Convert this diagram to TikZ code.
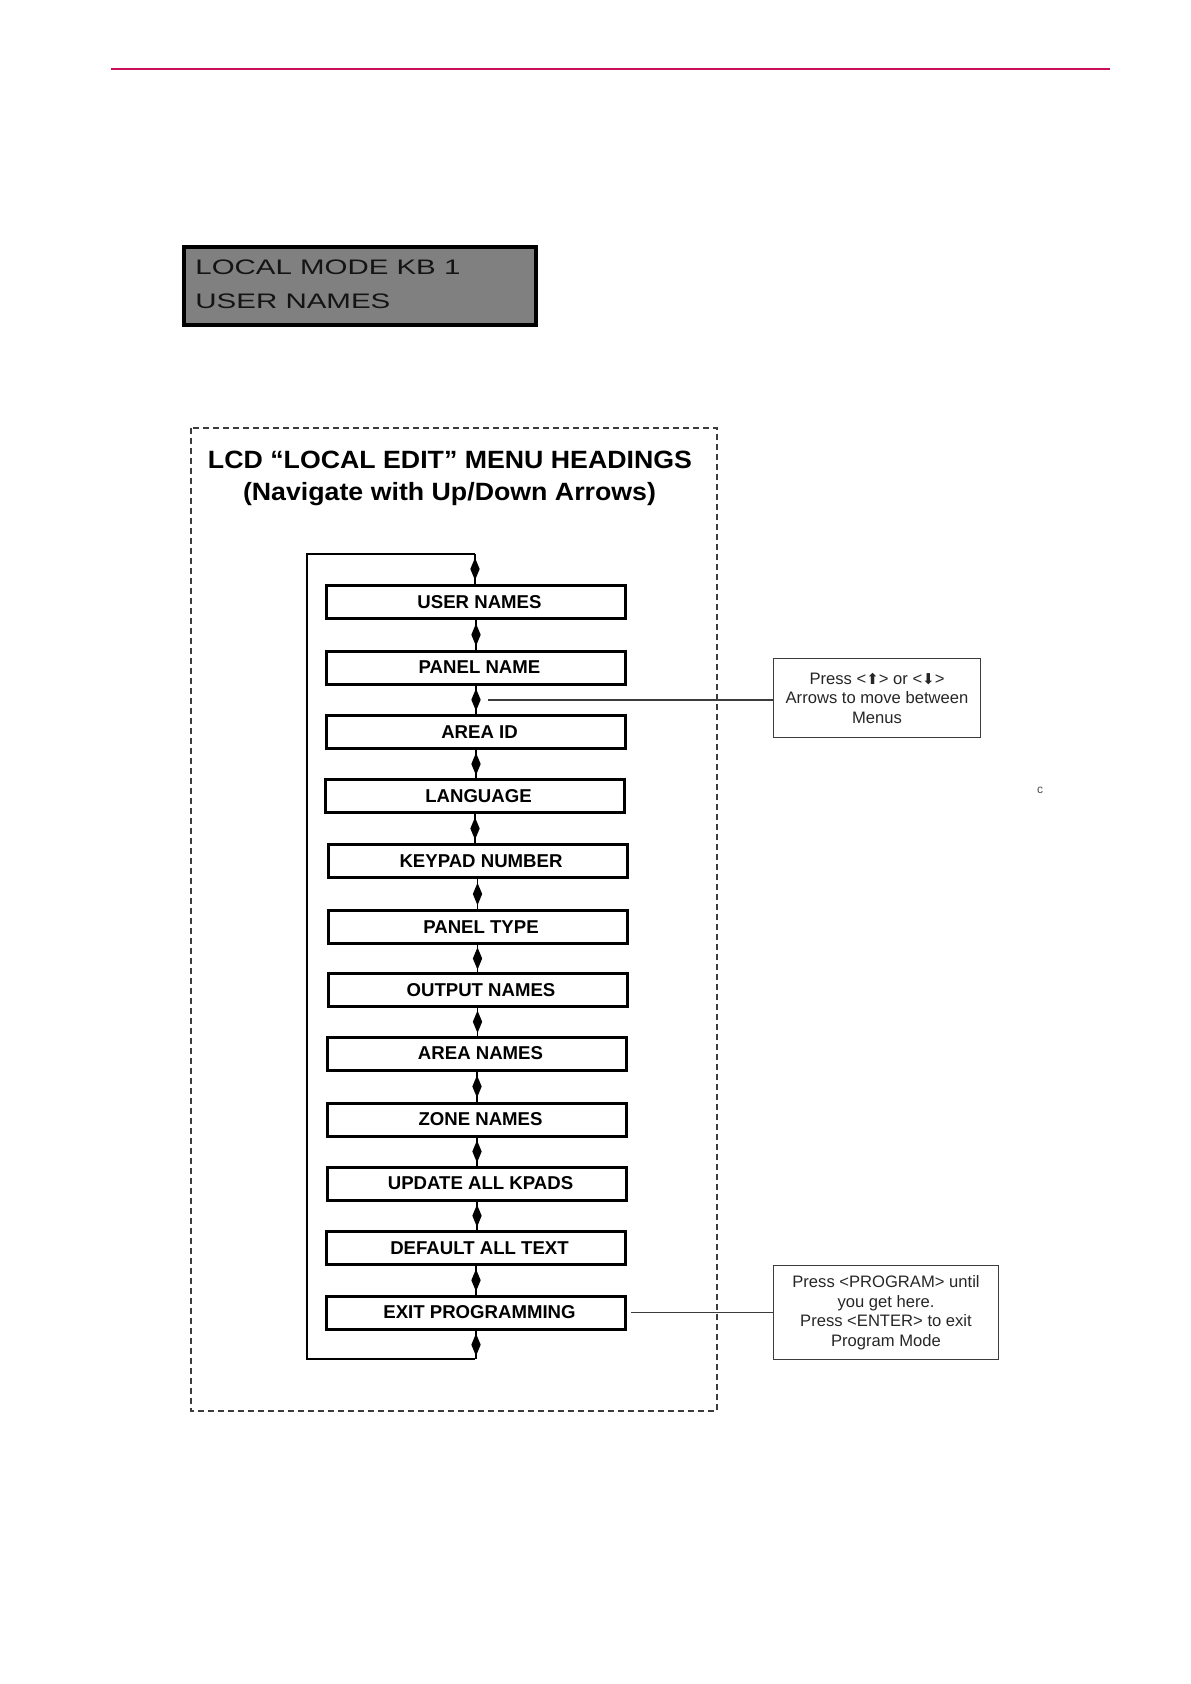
\documentclass[tikz,border=0pt]{standalone}
\usepackage{graphicx}
\usepackage{fontspec}
\setmainfont{Liberation Sans}
\newfontfamily\djv{DejaVu Sans}
\usetikzlibrary{shapes.geometric}
\definecolor{rulered}{RGB}{200,16,90}
\definecolor{lcdgray}{RGB}{128,128,128}
\definecolor{lcdtext}{RGB}{20,20,20}
\definecolor{framegray}{RGB}{60,60,60}
\begin{document}
\begin{tikzpicture}[x=0.5pt,y=-0.5pt,
  menubox/.style={draw=black, line width=1.5pt, fill=white, minimum width=149.5pt, minimum height=16.5pt, inner sep=0pt, font=\fontsize{9.3}{11}\selectfont\bfseries},
  dmd/.style={diamond, fill=black, draw=none, inner sep=0pt, minimum width=5pt, minimum height=11.5pt},
  link/.style={line width=0.8pt},
  loopline/.style={line width=1.4pt, line join=miter},
  callout/.style={draw=framegray, line width=0.6pt, inner sep=0pt, align=center, font=\fontsize{8.3}{9.75}\selectfont, text=black!85},
  leader/.style={line width=0.6pt, draw=framegray},
  dashframe/.style={draw=framegray, line width=0.8pt, dash pattern=on 3pt off 2pt},
  titletext/.style={anchor=base, inner sep=0pt, font=\fontsize{12.5}{14}\selectfont\bfseries},
  lcdline/.style={anchor=base west, inner sep=0pt, text=lcdtext, font=\fontsize{10.5}{12}\selectfont}
]
\useasboundingbox (0,0) rectangle (1190,1684);

% top rule
\draw[draw=rulered, line width=1pt] (111,69) -- (1110,69);

% LCD display
\node[draw=black, line width=2pt, fill=lcdgray, minimum width=176pt, minimum height=39pt, inner sep=0pt] (lcd) at (360,286) {};
\node[lcdline] (lcd1) at (195,275) {\resizebox{132.5pt}{\height}{LOCAL MODE KB 1}};
\node[lcdline] (lcd2) at (195,309) {\resizebox{97.5pt}{\height}{USER NAMES}};

% dashed frame
\draw[dashframe] (191,428) rectangle (717,1411);

% titles
\node[titletext] (title1) at (450,468) {\resizebox{242pt}{\height}{LCD “LOCAL EDIT” MENU HEADINGS}};
\node[titletext] (title2) at (449.5,500) {\resizebox{206.5pt}{\height}{(Navigate with Up/Down Arrows)}};

% loop
\coordinate (ltop) at (475,554);
\coordinate (ltopl) at (307,554);
\coordinate (lbotl) at (307,1359);
\coordinate (lbot) at (475,1359);
\draw[loopline] (ltop) -- (ltopl) -- (lbotl) -- (lbot);

% menu boxes
\foreach \n/\x/\y/\t in {1/476/602/USER NAMES, 2/476/667.5/PANEL NAME, 3/476/732/AREA ID, 4/475/796/LANGUAGE, 5/477.5/861/KEYPAD NUMBER, 6/477.5/927/PANEL TYPE, 7/477.5/990/OUTPUT NAMES, 8/477/1053.5/AREA NAMES, 9/477/1119.5/ZONE NAMES, 10/477/1183.5/UPDATE ALL KPADS, 11/476/1248/DEFAULT ALL TEXT, 12/476/1312.5/EXIT PROGRAMMING}
  \node[menubox] (b\n) at (\x,\y) {\hspace*{3.5pt}\t};

% up/down connectors
\draw[link] (ltop) -- (ltop |- b1.north) node[midway, dmd] (d0) {};
\foreach \i/\j in {1/2,2/3,3/4,4/5,5/6,6/7,7/8,8/9,9/10,10/11,11/12}
  \draw[link] (b\i.south) -- (b\i.south |- b\j.north) node[midway, dmd] (d\i) {};
\draw[link] (b12.south) -- (b12.south |- lbot) node[midway, dmd] (d12) {};

% callouts
\node[callout, minimum width=103.7pt, minimum height=39.7pt] (c1) at (877,698)
  {Press <{\djv\fontsize{7.5}{8}\selectfont ⬆}> or <{\djv\fontsize{7.5}{8}\selectfont ⬇}>\\Arrows to move between\\Menus};
\node[callout, minimum width=112.7pt, minimum height=47.2pt] (c2) at (886,1312.5)
  {Press <PROGRAM> until\\you get here.\\Press <ENTER> to exit\\Program Mode};

\coordinate (tap) at (488,700);
\draw[leader] (tap) -- (tap -| c1.west);
\draw[leader] ([xshift=2pt]b12.east) -- (c2.west);

% stray mark
\node[inner sep=0pt, text=black!70, font=\fontsize{6}{7}\selectfont] (cmark) at (1040,790) {c};
\end{tikzpicture}
\end{document}
